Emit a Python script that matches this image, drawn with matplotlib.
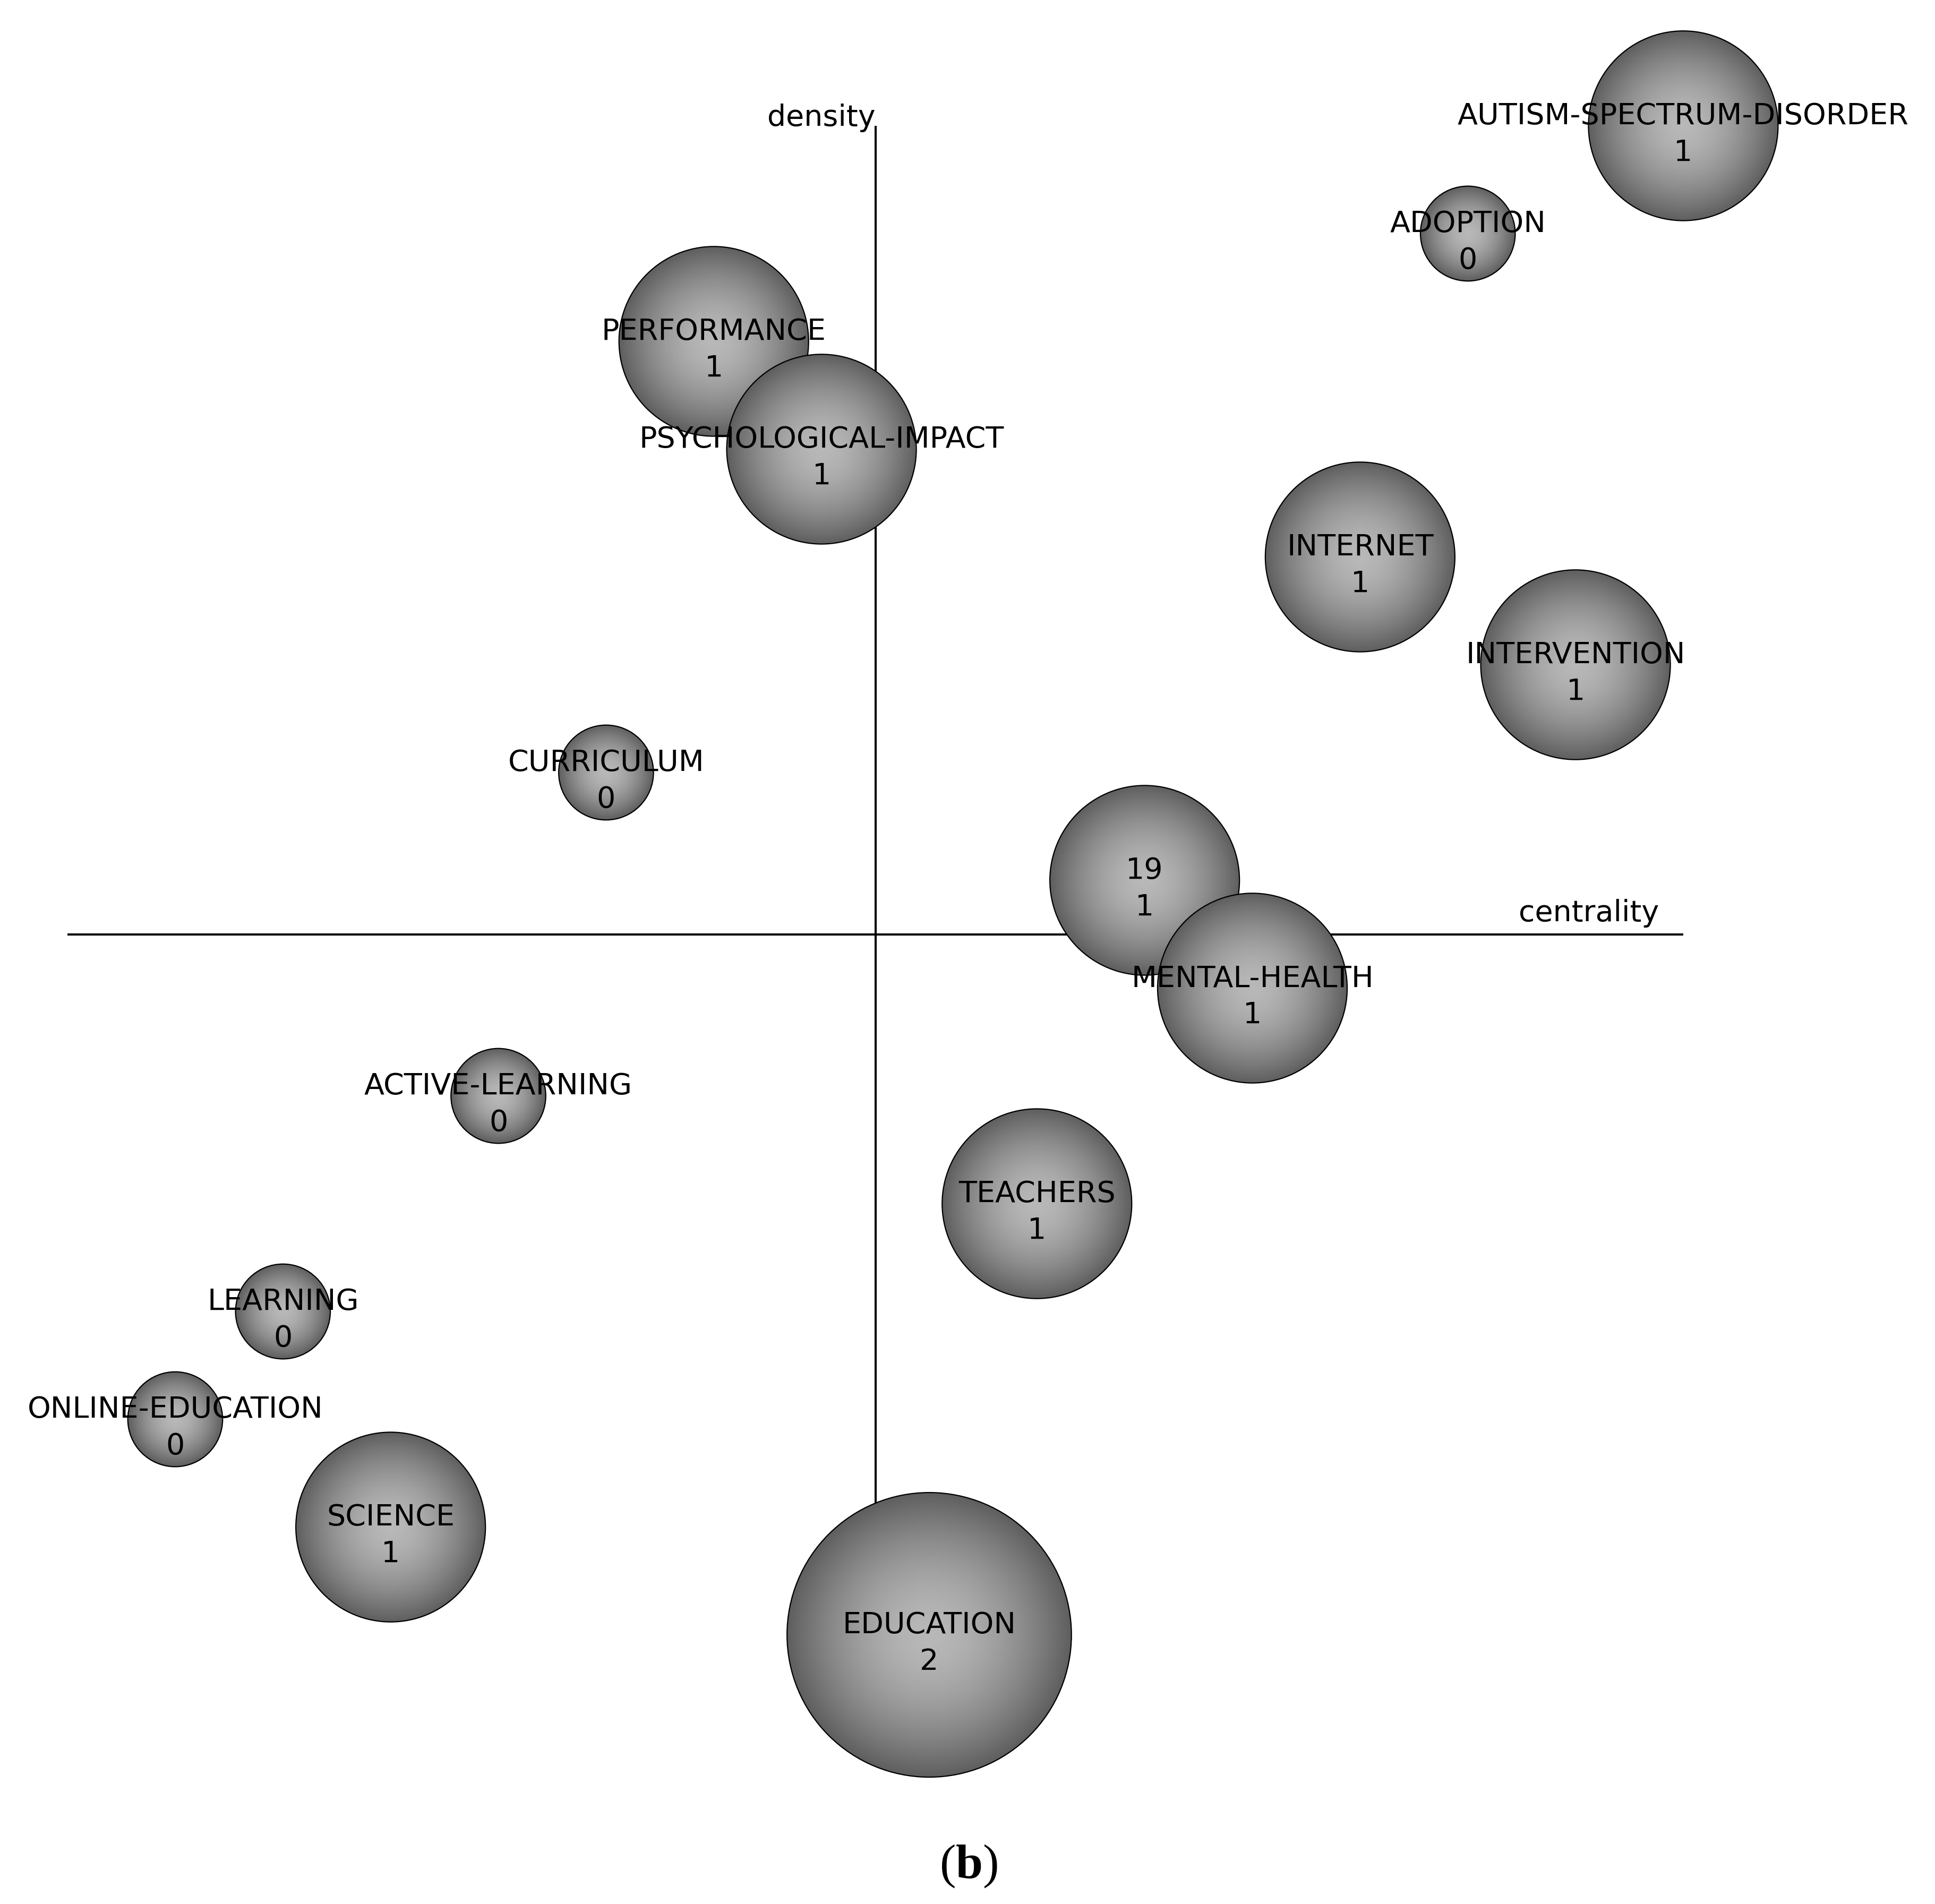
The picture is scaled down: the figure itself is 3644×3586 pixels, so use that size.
import numpy as np
import matplotlib
matplotlib.use("Agg")
import matplotlib.pyplot as plt
from matplotlib.patches import Circle

# ---- data ----
themes = ["AUTISM-SPECTRUM-DISORDER", "ADOPTION", "PERFORMANCE", "PSYCHOLOGICAL-IMPACT",
          "INTERNET", "INTERVENTION", "CURRICULUM", "19", "MENTAL-HEALTH",
          "ACTIVE-LEARNING", "TEACHERS", "LEARNING", "ONLINE-EDUCATION", "SCIENCE", "EDUCATION"]
centrality_rank = [15, 13, 6, 7, 12, 14, 5, 10, 11, 4, 9, 2, 1, 3, 8]
density_rank = [15, 14, 13, 12, 11, 10, 9, 8, 7, 6, 5, 4, 3, 2, 1]
h_index = [1, 0, 1, 1, 1, 1, 0, 1, 1, 0, 1, 0, 0, 1, 2]

# ---- figure ----
W, H = 3644, 3586
fig = plt.figure(figsize=(W / 100, H / 100), dpi=100)
ax = fig.add_axes([0, 0, 1, 1])
ax.set_xlim(-0.6265, 17.337)
ax.set_ylim(-1.497, 16.167)
ax.axis("off")

n_max = len(themes)
mid = n_max / 2.0

# axes lines (behind bubbles)
ax.plot([0, n_max], [mid, mid], color="black", lw=2.9, zorder=1, solid_capstyle="butt")
ax.plot([mid, mid], [0, n_max], color="black", lw=2.9, zorder=1, solid_capstyle="butt")

# radial gradient texture
n = 400
u = np.linspace(-1, 1, n)
X, Y = np.meshgrid(u, u)
Rr = np.clip(np.sqrt(X ** 2 + Y ** 2), 0, 1)
c0, c1 = 0.72, 0.37
grad = c0 - (c0 - c1) * Rr ** 1.7

base_r = 0.44
for i, (cx, cy, h) in enumerate(zip(centrality_rank, density_rank, h_index)):
    R = base_r * (h + 1)
    im = ax.imshow(grad, extent=[cx - R, cx + R, cy - R, cy + R], origin="lower",
                   cmap="gray", vmin=0, vmax=1, interpolation="bilinear",
                   zorder=2 + 2 * i)
    circ = Circle((cx, cy), R, facecolor="none", edgecolor="black", lw=1.6,
                  zorder=3 + 2 * i)
    ax.add_patch(circ)
    im.set_clip_path(circ)

ax.set_aspect("auto")
ax.set_xlim(-0.6265, 17.337)
ax.set_ylim(-1.497, 16.167)

font = "DejaVu Sans"
fs = 40
for name, cx, cy, h in zip(themes, centrality_rank, density_rank, h_index):
    ax.annotate(name, (cx, cy), xytext=(0, 3), textcoords="offset pixels",
                ha="center", va="baseline", fontsize=fs, family=font, zorder=100)
    ax.annotate(str(h), (cx, cy), xytext=(0, -66), textcoords="offset pixels",
                ha="center", va="baseline", fontsize=fs, family=font, zorder=100)

# axis labels
ax.annotate("density", (mid, n_max), xytext=(0, 0), textcoords="offset pixels",
            ha="right", va="baseline", fontsize=fs, family=font)
ax.annotate("centrality", (n_max, mid), xytext=(-46, 25), textcoords="offset pixels",
            ha="right", va="baseline", fontsize=fs, family=font)

# caption
plt.rcParams["mathtext.fontset"] = "custom"
plt.rcParams["mathtext.rm"] = "Liberation Serif"
plt.rcParams["mathtext.bf"] = "Liberation Serif:bold"
fig.text(1824 / W, 1 - 3537 / H, r"$\mathrm{(}\mathbf{b}\mathrm{)}$", ha="center",
         va="baseline", fontsize=66)

fig.savefig("out.png", dpi=100, facecolor="white")
